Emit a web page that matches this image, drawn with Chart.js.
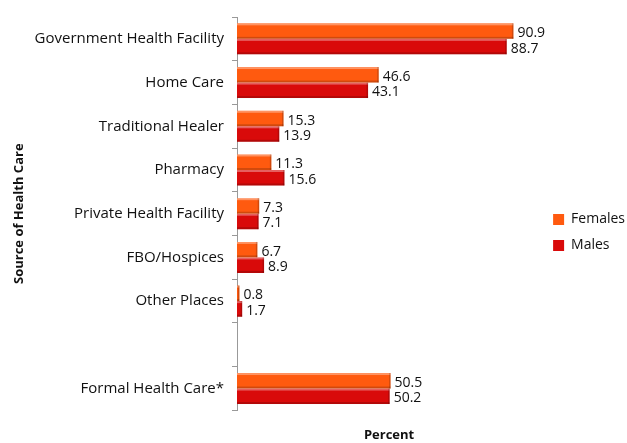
<!DOCTYPE html>
<html>
<head>
<meta charset="utf-8">
<script src="https://cdn.jsdelivr.net/npm/chart.js@4/dist/chart.umd.min.js"></script>
<style>
  html, body { margin: 0; padding: 0; background: #fff; }
  #wrap { width: 627px; height: 443px; }
</style>
</head>
<body>
<div id="wrap"><canvas id="myChart" width="627" height="443"></canvas></div>
<script>
// ---------------- data ----------------
var categories = ['Government Health Facility', 'Home Care', 'Traditional Healer', 'Pharmacy',
    'Private Health Facility', 'FBO/Hospices', 'Other Places', '', 'Formal Health Care*'];
var females = [90.9, 46.6, 15.3, 11.3, 7.3, 6.7, 0.8, null, 50.5];
var males = [88.7, 43.1, 13.9, 15.6, 7.1, 8.9, 1.7, null, 50.2];

var FONT = "'Open Sans', 'Liberation Sans', sans-serif";

// value labels at the end of each bar + a little bevel on the bars
var barDecor = {
    id: 'barDecor',
    afterDatasetsDraw: function(chart) {
        var ctx = chart.ctx;
        ctx.save();
        chart.data.datasets.forEach(function(ds, i) {
            var meta = chart.getDatasetMeta(i);
            meta.data.forEach(function(bar, j) {
                var v = ds.data[j];
                if (v === null) return;
                var top = bar.y - bar.height / 2;
                var left = Math.min(bar.x, bar.base);
                var w = Math.abs(bar.x - bar.base);
                // light top edge
                ctx.fillStyle = 'rgba(255,255,255,0.35)';
                ctx.fillRect(left, top, w, 2);
                // darker bottom edge
                ctx.fillStyle = 'rgba(0,0,0,0.18)';
                ctx.fillRect(left, top + bar.height - 2, w, 2);
                ctx.fillRect(left + w - 1.5, top, 1.5, bar.height);
                // label
                ctx.fillStyle = '#111';
                ctx.font = '14px ' + FONT;
                ctx.textBaseline = 'middle';
                ctx.textAlign = 'left';
                ctx.fillText(v.toFixed(1), bar.x + 4, bar.y + 2);
            });
        });
        ctx.restore();
    }
};

var ctx = document.getElementById('myChart').getContext('2d');
var chart = new Chart(ctx, {
    type: 'bar',
    data: {
        labels: categories,
        datasets: [{
            label: 'Females',
            data: females,
            backgroundColor: '#FF5A0F',
            borderWidth: 0
        }, {
            label: 'Males',
            data: males,
            backgroundColor: '#D90A0A',
            borderWidth: 0
        }]
    },
    options: {
        indexAxis: 'y',
        responsive: false,
        animation: false,
        categoryPercentage: 0.71,
        barPercentage: 1.0,
        layout: { padding: { top: 10, right: -8, bottom: 0, left: 11 } },
        plugins: {
            legend: {
                position: 'right',
                align: 'center',
                title: {
                    display: true,
                    text: ' ',
                    font: { size: 10 },
                    padding: 0
                },
                labels: {
                    boxWidth: 11,
                    boxHeight: 11,
                    padding: 12,
                    color: '#111',
                    font: { family: FONT, size: 14 }
                }
            },
            tooltip: { enabled: false }
        },
        scales: {
            x: {
                min: 0,
                max: 100,
                ticks: { display: false },
                grid: { display: false },
                border: { display: false },
                title: {
                    display: true,
                    text: 'Percent',
                    color: '#111',
                    font: { family: FONT, size: 13, weight: 'bold' },
                    padding: { top: 9, bottom: 0 }
                }
            },
            y: {
                afterFit: function(scale) { scale.width = 226; },
                grid: {
                    offset: true,
                    drawOnChartArea: false,
                    tickLength: 5,
                    color: '#999'
                },
                border: { display: true, color: '#999' },
                ticks: {
                    color: '#111',
                    padding: 8,
                    font: { family: FONT, size: 15 }
                },
                title: {
                    display: true,
                    text: 'Source of Health Care',
                    color: '#111',
                    font: { family: FONT, size: 13, weight: 'bold' },
                    padding: { top: 0, bottom: 12 }
                }
            }
        }
    },
    plugins: [barDecor]
});
</script>
</body>
</html>
